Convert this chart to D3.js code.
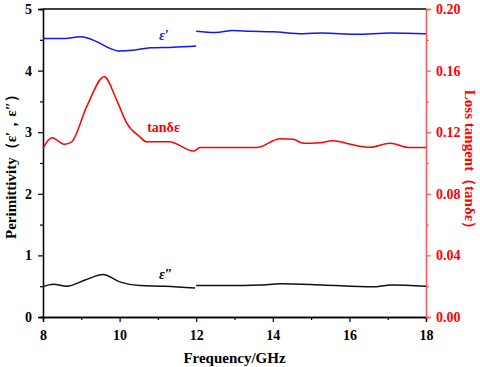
<!DOCTYPE html>
<html>
<head>
<meta charset="utf-8">
<script src="https://cdn.jsdelivr.net/npm/d3@7"></script>
<style>
  body { margin: 0; background: #fff; }
  text { font-family: "Liberation Serif", "Times New Roman", serif; font-weight: bold; }
</style>
</head>
<body>
<div id="chart"></div>
<script>
// eps' (real permittivity), two measurement bands split at 12 GHz
const epsRealLow = [[8, 4.52], [8.5, 4.52], [9, 4.55], [9.4, 4.47], [9.75, 4.36], [9.96, 4.32], [10.35, 4.33], [10.8, 4.37], [11.4, 4.38], [12, 4.40]]
const epsRealHigh = [[12, 4.64], [12.5, 4.62], [12.96, 4.65], [13.4, 4.64], [14.0, 4.63], [14.8, 4.60], [15.3, 4.61], [16.2, 4.59], [17.06, 4.61], [18, 4.60]]

// eps'' (imaginary permittivity)
const epsImagLow = [[8, 0.49], [8.27, 0.53], [8.62, 0.50], [9.1, 0.60], [9.57, 0.69], [10, 0.57], [10.53, 0.51], [11.2, 0.50], [11.97, 0.47]]
const epsImagHigh = [[12, 0.51], [12.8, 0.51], [13.67, 0.52], [14.2, 0.54], [15.3, 0.52], [16.6, 0.49], [17.1, 0.52], [18, 0.50]]

// loss tangent (right axis)
const tanDelta = [[8, 0.1095], [8.23, 0.1164], [8.57, 0.1121], [8.75, 0.1138], [9.14, 0.1366], [9.6, 0.156], [9.92, 0.141],
    [10.19, 0.1258], [10.53, 0.117], [10.7, 0.1138], [11.3, 0.1138], [11.93, 0.1078], [12.1, 0.110], [13.58, 0.110],
    [14.19, 0.1158], [14.53, 0.1154], [14.8, 0.1128], [15.23, 0.1132], [15.57, 0.1145], [16.0, 0.1123], [16.54, 0.1102],
    [17.06, 0.1128], [17.58, 0.110], [18, 0.110]]

const xTicks = [8, 10, 12, 14, 16, 18]
const yLeftTicks = [0, 1, 2, 3, 4, 5]
const yRightTicks = [0, 0.04, 0.08, 0.12, 0.16, 0.20]

const width = 480, height = 367
const margin = { top: 9, right: 54, bottom: 50, left: 43 }
const w = width - margin.left - margin.right
const h = height - margin.top - margin.bottom

const svg = d3.select("#chart").append("svg")
    .attr("width", width)
    .attr("height", height)

const g = svg.append("g")
    .attr("transform", "translate(" + margin.left + "," + margin.top + ")")

const x = d3.scaleLinear().domain([8, 18]).range([0, w])
const yL = d3.scaleLinear().domain([0, 5]).range([h, 0])
const yR = d3.scaleLinear().domain([0, 0.2]).range([h, 0])

// minor ticks first, then major axes on top
g.append("g").attr("transform", "translate(0," + h + ")")
    .call(d3.axisBottom(x).tickValues(d3.range(9, 18, 2)).tickSize(3).tickFormat(""))
g.append("g")
    .call(d3.axisLeft(yL).tickValues(d3.range(0.5, 5, 1)).tickSize(3).tickFormat(""))
g.append("g").attr("class", "right").attr("transform", "translate(" + w + ",0)")
    .call(d3.axisRight(yR).tickValues(d3.range(0.02, 0.2, 0.04)).tickSize(3).tickFormat(""))

g.append("g").attr("transform", "translate(0," + h + ")")
    .call(d3.axisBottom(x).tickValues(xTicks).tickSize(5).tickPadding(8).tickFormat(d3.format("d")))
g.append("g")
    .call(d3.axisLeft(yL).tickValues(yLeftTicks).tickSize(5).tickPadding(6).tickFormat(d3.format("d")))
g.append("g").attr("class", "right").attr("transform", "translate(" + w + ",0)")
    .call(d3.axisRight(yR).tickValues(yRightTicks).tickSize(5).tickPadding(5).tickFormat(d3.format(".2f")))

g.selectAll(".tick text").attr("font-size", 14).attr("fill", "#000")
g.selectAll(".domain").attr("stroke", "#000").attr("stroke-width", 1.3)
g.selectAll(".tick line").attr("stroke", "#000").attr("stroke-width", 1.2)
g.selectAll(".right .domain, .right .tick line").attr("stroke", "#ff5a5a")
g.selectAll(".right .tick text").attr("fill", "#ff0000")

// top frame line
g.append("line").attr("x1", 0).attr("x2", w).attr("y1", 0).attr("y2", 0)
    .attr("stroke", "#000").attr("stroke-width", 1.3)

const lineL = d3.line().x(d => x(d[0])).y(d => yL(d[1])).curve(d3.curveMonotoneX)
const lineR = d3.line().x(d => x(d[0])).y(d => yR(d[1])).curve(d3.curveMonotoneX)

const series = [
    { data: epsRealLow, line: lineL, color: "#1414ff" },
    { data: epsRealHigh, line: lineL, color: "#1414ff" },
    { data: epsImagLow, line: lineL, color: "#111" },
    { data: epsImagHigh, line: lineL, color: "#111" },
    { data: tanDelta, line: lineR, color: "#ff0000" }
]

series.forEach(s => {
    g.append("path")
        .datum(s.data)
        .attr("fill", "none")
        .attr("stroke", s.color)
        .attr("stroke-width", 1.5)
        .attr("d", s.line)
})

// in-plot labels
g.append("text").attr("x", x(11.03)).attr("y", yL(4.5)).attr("fill", "#1414ff")
    .attr("font-size", 14).attr("font-style", "italic").text("ε′")
g.append("text").attr("x", x(10.72)).attr("y", yR(0.12)).attr("fill", "#ff0000")
    .attr("font-size", 14).text("tanδε")
g.append("text").attr("x", x(11.03)).attr("y", yL(0.61)).attr("fill", "#000")
    .attr("font-size", 14).attr("font-style", "italic").text("ε″")

// axis titles
svg.append("text")
    .attr("x", margin.left + w / 2).attr("y", 363)
    .attr("text-anchor", "middle").attr("font-size", 15)
    .text("Frequency/GHz")

svg.append("text")
    .attr("transform", "translate(16," + (margin.top + h / 2) + ") rotate(-90)")
    .attr("text-anchor", "middle").attr("font-size", 15)
    .text("Perimittivity（ε′，ε″）")

svg.append("text")
    .attr("transform", "translate(465," + (margin.top + h / 2) + ") rotate(90)")
    .attr("text-anchor", "middle").attr("font-size", 15).attr("fill", "#ff0000")
    .text("Loss tangent（tanδε）")
</script>
</body>
</html>
